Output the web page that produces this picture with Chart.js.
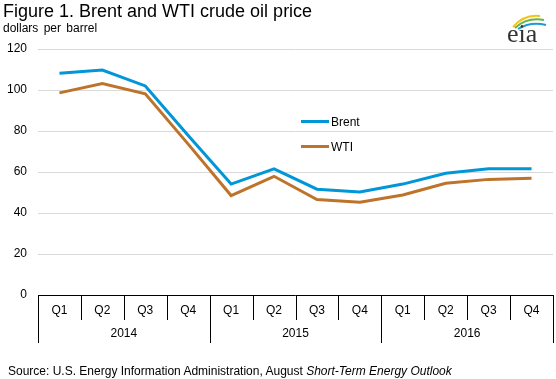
<!DOCTYPE html>
<html>
<head>
<meta charset="utf-8">
<script src="https://cdn.jsdelivr.net/npm/chart.js@4/dist/chart.umd.min.js"></script>
<style>
  body { margin: 0; background: #fff; }
  #wrap { position: relative; width: 556px; height: 379px; font-family: "Liberation Sans", Arial, sans-serif; color: #000; }
  #oil { position: absolute; left: 0; top: 0; }
  .title { position: absolute; left: 3px; top: 1px; font-size: 18px; white-space: nowrap; }
  .sub { position: absolute; left: 3px; top: 21px; font-size: 12px; word-spacing: 2px; white-space: nowrap; }
  .src { position: absolute; left: 8px; top: 364px; font-size: 12px; white-space: nowrap; }
  .legend { position: absolute; left: 301px; font-size: 12px; white-space: nowrap; }
  .legend i { display: inline-block; width: 28px; height: 3px; vertical-align: middle; margin-right: 2px; position: relative; top: -1px; }
  #logo { position: absolute; left: 500px; top: 6px; }
</style>
</head>
<body>
<div id="wrap">
  <canvas id="oil" width="556" height="379"></canvas>
  <div class="title">Figure 1. Brent and WTI crude oil price</div>
  <div class="sub">dollars per barrel</div>
  <div class="legend" style="top:115px"><i style="background:#0096d7"></i>Brent</div>
  <div class="legend" style="top:140px"><i style="background:#bd732a"></i>WTI</div>
  <div class="src">Source: U.S. Energy Information Administration, August <em>Short-Term Energy Outlook</em></div>
  <svg id="logo" width="52" height="40" viewBox="0 0 52 40">
    <path d="M13 21 Q24 8 40 10" stroke="#f2c418" stroke-width="2" fill="none"/>
    <path d="M15 22 Q27 11 44 14" stroke="#6ab344" stroke-width="2" fill="none"/>
    <path d="M18 23 Q31 15 46 19" stroke="#1f9ad6" stroke-width="2" fill="none"/>
    <text x="7" y="36" font-family="Liberation Serif, serif" font-size="26" fill="#333">eia</text>
  </svg>
</div>
<script>
"use strict";

const quarters = ["Q1", "Q2", "Q3", "Q4", "Q1", "Q2", "Q3", "Q4", "Q1", "Q2", "Q3", "Q4"];
const years = ["2014", "2015", "2016"];
const brent = [108.2, 109.7, 102.0, 77.8, 54.1, 61.5, 51.6, 50.2, 54.1, 59.4, 61.6, 61.6];
const wti = [98.6, 103.2, 98.1, 73.6, 48.5, 57.9, 46.6, 45.2, 48.8, 54.5, 56.4, 56.9];
const yTicks = [0, 20, 40, 60, 80, 100, 120];

const FONT = "'Liberation Sans', Arial, sans-serif";

/* ── year row + box lines under the plot ── */
const quarterBox = {
  id: "quarterBox",
  afterDraw(chart) {
    const { ctx, chartArea: a, scales } = chart;
    const x = scales.x;
    const n = quarters.length;
    const step = (a.right - a.left) / n;
    ctx.save();
    ctx.strokeStyle = "#000";
    ctx.lineWidth = 1;
    ctx.beginPath();
    ctx.moveTo(a.left, a.bottom + 0.5);
    ctx.lineTo(a.right, a.bottom + 0.5);
    for (let i = 0; i <= n; i++) {
      const px = Math.round(i === n ? a.right : x.getPixelForValue(i) - step / 2) + 0.5;
      ctx.moveTo(px, a.bottom);
      ctx.lineTo(px, a.bottom + (i % 4 === 0 ? 48 : 25));
    }
    ctx.stroke();

    ctx.fillStyle = "#000";
    ctx.font = "12px " + FONT;
    ctx.textAlign = "center";
    ctx.textBaseline = "middle";
    years.forEach((yr, k) => {
      const cx = (x.getPixelForValue(k * 4) + x.getPixelForValue(k * 4 + 3)) / 2;
      ctx.fillText(yr, cx, a.bottom + 39);
    });
    ctx.restore();
  },
};

new Chart(document.getElementById("oil"), {
  type: "line",
  data: {
    labels: quarters,
    datasets: [
      { label: "Brent", data: brent, borderColor: "#0096d7", borderWidth: 3, pointRadius: 0, tension: 0, fill: false },
      { label: "WTI", data: wti, borderColor: "#bd732a", borderWidth: 3, pointRadius: 0, tension: 0, fill: false },
    ],
  },
  options: {
    responsive: false,
    animation: false,
    devicePixelRatio: 1,
    layout: { padding: { top: 49, left: 0, right: 3, bottom: 34 } },
    plugins: { legend: { display: false }, tooltip: { enabled: false } },
    scales: {
      x: {
        offset: true,
        grid: { display: false },
        border: { display: false },
        ticks: { font: { family: FONT, size: 12 }, color: "#000", padding: 0, maxRotation: 0, autoSkip: false },
        afterFit: (s) => { s.height = 50; },
      },
      y: {
        min: 0,
        max: 120,
        afterBuildTicks: (s) => { s.ticks = yTicks.map((v) => ({ value: v })); },
        grid: { color: "#d9d9d9", lineWidth: 1, drawTicks: false },
        border: { display: false },
        ticks: { font: { family: FONT, size: 12 }, color: "#000", padding: 11 },
        afterFit: (s) => { s.width = 38; },
      },
    },
  },
  plugins: [quarterBox],
});
</script>
</body>
</html>
